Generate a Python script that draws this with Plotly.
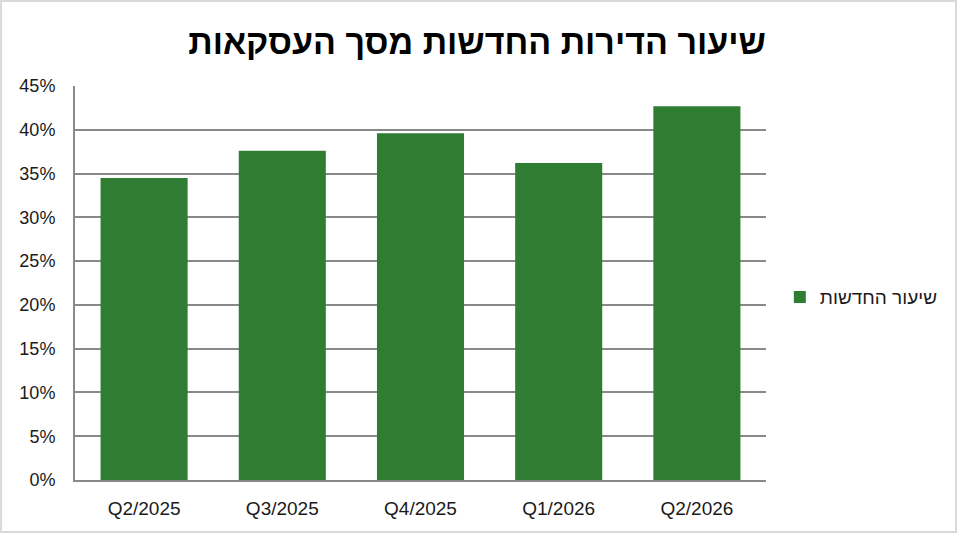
import plotly.graph_objects as go

# quarters and share of new dwellings out of all deals (%)
quarters = ['Q2/2025', 'Q3/2025', 'Q4/2025', 'Q1/2026', 'Q2/2026']
new_share = [34.5, 37.6, 39.6, 36.2, 42.7]
tick_vals = [0, 5, 10, 15, 20, 25, 30, 35, 40, 45]
tick_text = [f'{v}%' for v in tick_vals]

title_text = 'שיעור הדירות החדשות מסך העסקאות'
series_name = 'שיעור החדשות'

green = '#2E7D32'
grid = '#898989'

fig = go.Figure()
fig.add_trace(go.Bar(x=quarters, y=new_share, name=series_name,
                     marker=dict(color=green, line=dict(width=0)),
                     showlegend=True))

fig.update_layout(
    width=958, height=534,
    margin=dict(l=75, r=192, t=86, b=54),
    paper_bgcolor='white', plot_bgcolor='white',
    font=dict(family='Liberation Sans, Arial, sans-serif', size=18, color='#1a1a1a'),
    title=dict(text=f'<b>{title_text}</b>', x=0.498, xref='container', xanchor='center',
               y=0.921, yref='container', yanchor='middle',
               font=dict(family='Liberation Sans, sans-serif', size=34, color='black')),
    bargap=0.37,
    legend=dict(x=1.02, y=0.464, xanchor='left', yanchor='middle',
                font=dict(size=19, color='#1a1a1a'), bgcolor='rgba(0,0,0,0)'),
    shapes=[dict(type='rect', xref='paper', yref='paper',
                 x0=-0.107, x1=1.275, y0=-0.132, y1=1.2157,
                 line=dict(color='#d9d9d9', width=2), fillcolor='rgba(0,0,0,0)',
                 layer='below')],
)
fig.update_yaxes(range=[0, 45], tickvals=tick_vals, ticktext=tick_text,
                 showgrid=True, gridcolor=grid, gridwidth=2,
                 showline=True, linecolor=grid, linewidth=2,
                 zeroline=False, ticks='', ticklabelstandoff=14,
                 tickfont=dict(size=18))
fig.update_xaxes(showline=True, linecolor=grid, linewidth=2, ticks='',
                 showgrid=False, ticklabelstandoff=10, tickfont=dict(size=19))

fig.write_html('out.html', config={'displayModeBar': False},
               post_script="document.body.style.margin='0px';")
